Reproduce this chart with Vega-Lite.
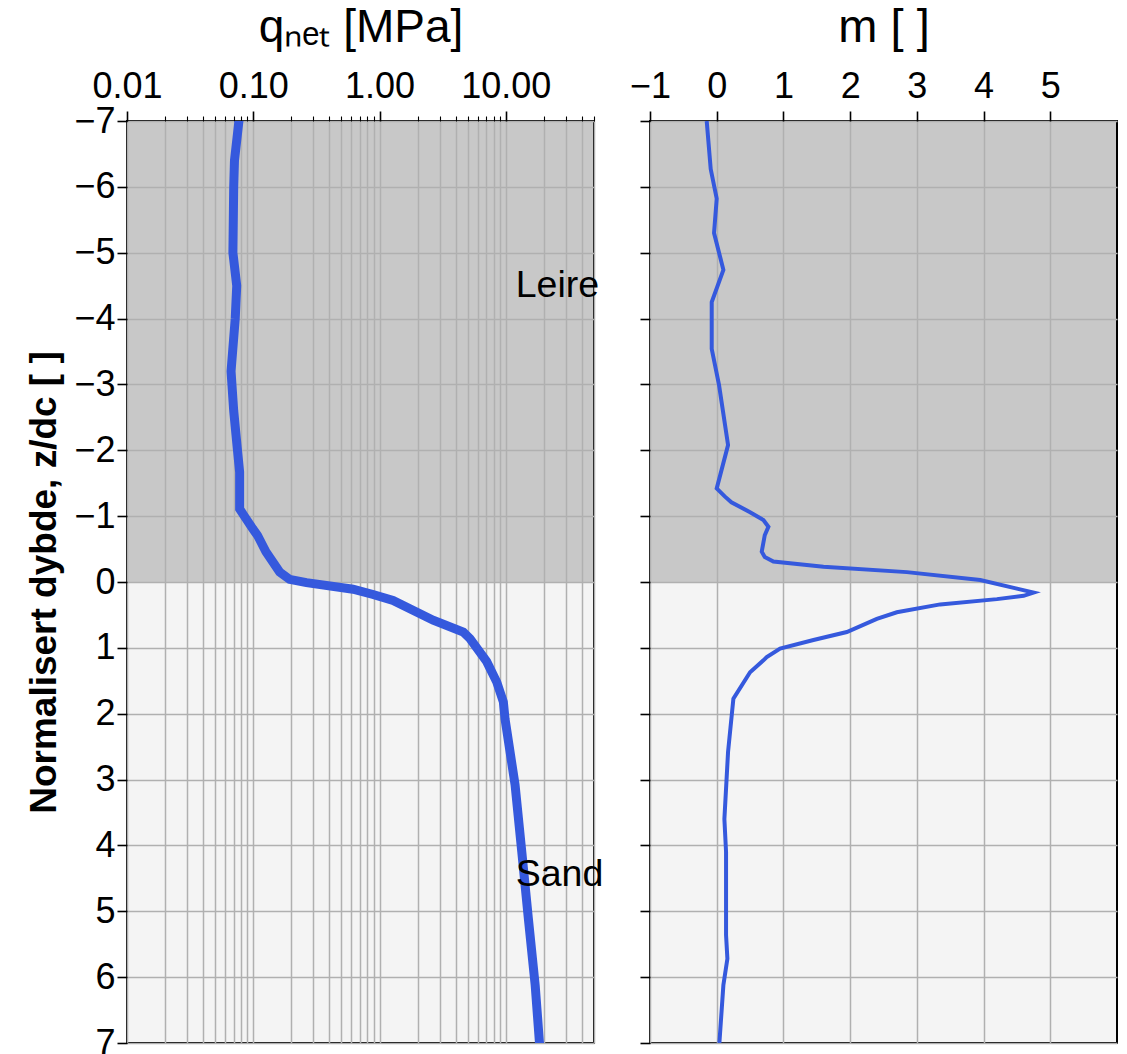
{
  "$schema": "https://vega.github.io/schema/vega-lite/v6.json",
  "padding": {"left": 24, "top": 2, "right": 0, "bottom": 0},
  "bounds": "flush",
  "spacing": 56,
  "config": {
    "font": "Liberation Sans",
    "view": {"fill": "#f4f4f4", "stroke": "black", "strokeWidth": 2},
    "axis": {
      "labelFont": "Liberation Sans",
      "labelFontSize": 36,
      "labelColor": "black",
      "labelFlush": false,
      "labelOverlap": false,
      "labelBound": false,
      "labelPadding": 6,
      "tickColor": "black",
      "tickWidth": 1.6,
      "tickSize": 10,
      "gridColor": "#b0b0b0",
      "gridWidth": 1.5,
      "gridOpacity": 1,
      "domain": false,
      "titleColor": "black",
      "titleFont": "Liberation Sans",
      "titleFontWeight": "normal"
    }
  },
  "datasets": {
    "q": [
      {"z": -7, "q": 0.077}, {"z": -6.4, "q": 0.071}, {"z": -6.0, "q": 0.070}, {"z": -5.0, "q": 0.069},
      {"z": -4.5, "q": 0.074}, {"z": -4.0, "q": 0.072}, {"z": -3.2, "q": 0.0667}, {"z": -2.6, "q": 0.070},
      {"z": -2.0, "q": 0.075}, {"z": -1.67, "q": 0.078}, {"z": -1.11, "q": 0.078}, {"z": -1.0, "q": 0.085},
      {"z": -0.81, "q": 0.099}, {"z": -0.71, "q": 0.108}, {"z": -0.46, "q": 0.126}, {"z": -0.15, "q": 0.162},
      {"z": -0.04, "q": 0.194}, {"z": 0.01, "q": 0.264}, {"z": 0.11, "q": 0.617}, {"z": 0.19, "q": 0.889},
      {"z": 0.28, "q": 1.28}, {"z": 0.58, "q": 2.66}, {"z": 0.76, "q": 4.61}, {"z": 0.86, "q": 5.21},
      {"z": 1.21, "q": 7.07}, {"z": 1.52, "q": 8.49}, {"z": 1.82, "q": 9.57}, {"z": 2.08, "q": 9.87},
      {"z": 3.08, "q": 11.85}, {"z": 4.1, "q": 13.4}, {"z": 5.11, "q": 15.1}, {"z": 6.12, "q": 17.1},
      {"z": 7, "q": 18.5}
    ],
    "m": [
      {"z": -7, "m": -0.15}, {"z": -6.27, "m": -0.09}, {"z": -5.82, "m": 0.0}, {"z": -5.3, "m": -0.04},
      {"z": -4.74, "m": 0.10}, {"z": -4.25, "m": -0.075}, {"z": -3.54, "m": -0.075}, {"z": -2.99, "m": 0.035},
      {"z": -2.08, "m": 0.17}, {"z": -1.42, "m": 0.0}, {"z": -1.3, "m": 0.12}, {"z": -1.21, "m": 0.22},
      {"z": -1.06, "m": 0.5}, {"z": -0.94, "m": 0.70}, {"z": -0.84, "m": 0.775}, {"z": -0.71, "m": 0.72},
      {"z": -0.46, "m": 0.675}, {"z": -0.38, "m": 0.72}, {"z": -0.31, "m": 0.85}, {"z": -0.23, "m": 1.6},
      {"z": -0.15, "m": 2.85}, {"z": -0.03, "m": 3.95}, {"z": 0.10, "m": 4.5}, {"z": 0.16, "m": 4.75},
      {"z": 0.21, "m": 4.6}, {"z": 0.26, "m": 4.2}, {"z": 0.34, "m": 3.35}, {"z": 0.46, "m": 2.7},
      {"z": 0.56, "m": 2.4}, {"z": 0.76, "m": 1.95}, {"z": 0.88, "m": 1.45}, {"z": 1.01, "m": 0.95},
      {"z": 1.14, "m": 0.75}, {"z": 1.19, "m": 0.70}, {"z": 1.37, "m": 0.5}, {"z": 1.77, "m": 0.25},
      {"z": 2.58, "m": 0.17}, {"z": 3.6, "m": 0.115}, {"z": 4.1, "m": 0.14}, {"z": 5.36, "m": 0.14},
      {"z": 5.72, "m": 0.16}, {"z": 6.12, "m": 0.1}, {"z": 7, "m": 0.04}
    ],
    "band": [{"ztop": -7, "zbot": 0}],
    "labels": [{"z": -4.5, "q": 12, "label": "Leire"}, {"z": 4.45, "q": 12, "label": "Sand"}]
  },
  "hconcat": [
    {
      "width": 467,
      "height": 922,
      "layer": [
        {
          "data": {"name": "band"},
          "mark": {"type": "rect", "color": "#b0b0b0", "opacity": 0.647, "xOffset": 1, "x2Offset": -1, "yOffset": 1},
          "encoding": {
            "x": {"datum": 0.01, "type": "quantitative", "scale": {"type": "log", "domain": [0.01, 50], "nice": false},
              "axis": {
                "orient": "top",
                "title": "qₙₑₜ [MPa]",
                "titleFontSize": 46,
                "titlePadding": 17,
                "grid": true,
                "values": [0.01,0.02,0.03,0.04,0.05,0.06,0.07,0.08,0.09,0.1,0.2,0.3,0.4,0.5,0.6,0.7,0.8,0.9,1,2,3,4,5,6,7,8,9,10,20,30,40,50],
                "labelExpr": "(datum.value == 0.01 || datum.value == 0.1 || datum.value == 1 || datum.value == 10) ? format(datum.value, '.2f') : ''",
                "tickSize": {"condition": {"test": "datum.value == 0.01 || datum.value == 0.1 || datum.value == 1 || datum.value == 10", "value": 10}, "value": 5},
                "tickWidth": {"condition": {"test": "datum.value == 0.01 || datum.value == 0.1 || datum.value == 1 || datum.value == 10", "value": 1.6}, "value": 1.1}
              }},
            "x2": {"datum": 50},
            "y": {"field": "ztop", "type": "quantitative", "scale": {"domain": [-7, 7], "reverse": true, "nice": false},
              "axis": {
                "orient": "left",
                "title": "Normalisert dybde, z/dc [ ]",
                "titleFontSize": 37,
                "titleFontWeight": "bold",
                "titlePadding": 10,
                "labelPadding": 2,
                "grid": true,
                "values": [-7,-6,-5,-4,-3,-2,-1,0,1,2,3,4,5,6,7],
                "labelExpr": "datum.value < 0 ? '−' + abs(datum.value) : '' + datum.value"
              }},
            "y2": {"field": "zbot"}
          }
        },
        {
          "mark": {"type": "rule", "color": "#808080", "strokeWidth": 1, "strokeDash": [3, 2]},
          "encoding": {"y": {"datum": 0, "type": "quantitative"}}
        },
        {
          "data": {"name": "q"},
          "mark": {"type": "line", "color": "#3559DD", "strokeWidth": 9, "strokeCap": "square", "clip": true},
          "encoding": {
            "x": {"field": "q", "type": "quantitative"},
            "y": {"field": "z", "type": "quantitative"},
            "order": {"field": "z", "type": "quantitative"}
          }
        },
        {
          "data": {"name": "labels"},
          "mark": {"type": "text", "align": "left", "baseline": "middle", "fontSize": 37.5, "color": "black"},
          "encoding": {
            "x": {"field": "q", "type": "quantitative"},
            "y": {"field": "z", "type": "quantitative"},
            "text": {"field": "label"}
          }
        }
      ]
    },
    {
      "width": 467,
      "height": 922,
      "layer": [
        {
          "data": {"name": "band"},
          "mark": {"type": "rect", "color": "#b0b0b0", "opacity": 0.647, "xOffset": 1, "x2Offset": -1, "yOffset": 1},
          "encoding": {
            "x": {"datum": -1, "type": "quantitative", "scale": {"domain": [-1, 6], "nice": false, "zero": false},
              "axis": {
                "orient": "top",
                "title": "m [ ]",
                "titleFontSize": 47,
                "titlePadding": 17,
                "grid": true,
                "values": [-1, 0, 1, 2, 3, 4, 5],
                "labelExpr": "datum.value < 0 ? '−' + abs(datum.value) : '' + datum.value"
              }},
            "x2": {"datum": 6},
            "y": {"field": "ztop", "type": "quantitative", "scale": {"domain": [-7, 7], "reverse": true, "nice": false},
              "axis": {
                "orient": "left",
                "title": null,
                "labels": false,
                "grid": true,
                "values": [-7,-6,-5,-4,-3,-2,-1,0,1,2,3,4,5,6,7]
              }},
            "y2": {"field": "zbot"}
          }
        },
        {
          "mark": {"type": "rule", "color": "#808080", "strokeWidth": 1, "strokeDash": [3, 2]},
          "encoding": {"y": {"datum": 0, "type": "quantitative"}}
        },
        {
          "mark": {"type": "rule", "color": "black", "strokeWidth": 3},
          "encoding": {"x": {"datum": 0, "type": "quantitative"}}
        },
        {
          "data": {"name": "m"},
          "mark": {"type": "line", "color": "#3559DD", "strokeWidth": 4, "clip": true},
          "encoding": {
            "x": {"field": "m", "type": "quantitative"},
            "y": {"field": "z", "type": "quantitative"},
            "order": {"field": "z", "type": "quantitative"}
          }
        }
      ]
    }
  ]
}
